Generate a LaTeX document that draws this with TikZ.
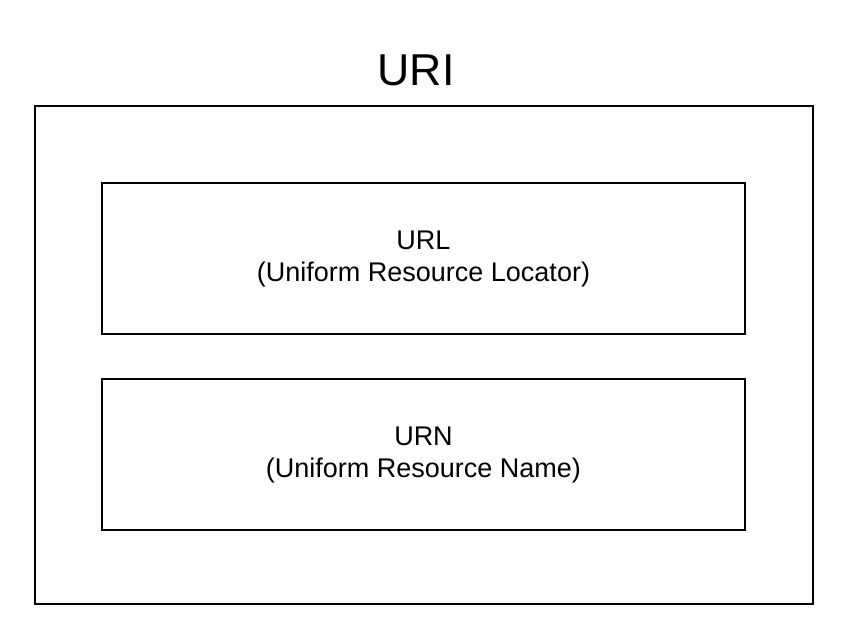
\documentclass[tikz,border=0pt]{standalone}
\usepackage{fontspec}
\setmainfont{Liberation Sans}
\usetikzlibrary{positioning}

\begin{document}
\begin{tikzpicture}[x=0.75pt,y=-0.75pt]
  \tikzstyle{outerbox}=[draw=black, line width=0.9pt, minimum width=583.5pt, minimum height=373.5pt, inner sep=0pt]
  \tikzstyle{innerbox}=[draw=black, line width=0.9pt, minimum width=482.25pt, minimum height=113.25pt, align=center, font=\fontsize{20.25}{24}\selectfont]

  \useasboundingbox (0,0) rectangle (852,636);

  % Titel
  \node[font=\fontsize{33.5}{40}\selectfont] (title) at (416,70) {URI};

  % Aeusserer Rahmen
  \node[outerbox] (uri) at (424,355) {};

  % Innere Kaesten
  \node[innerbox] (url) at (423.5,258.5) {URL\\(Uniform Resource Locator)};
  \node[innerbox] (urn) at (423.5,454.5) {URN\\(Uniform Resource Name)};
\end{tikzpicture}
\end{document}
